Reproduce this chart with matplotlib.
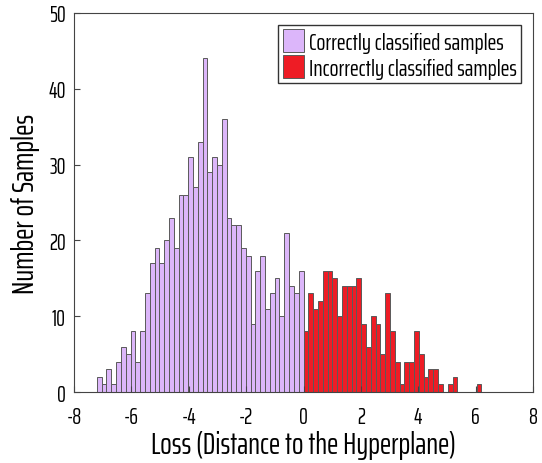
import numpy as np
import matplotlib
matplotlib.use('Agg')
import matplotlib.pyplot as plt

# counts, bin width ~0.1675
bin_w = 0.1675
correct_counts = [2, 1, 3, 1, 4, 6, 5, 8, 4, 8, 13, 17, 19, 17, 20, 23, 19, 26, 26, 31,
                  27, 33, 44, 29, 31, 30, 36, 23, 22, 22, 19, 18, 9, 16, 18, 11, 13, 15, 10, 21,
                  14, 13, 16]
wrong_counts = [8, 13, 11, 12, 16, 16, 15, 10, 14, 14, 14, 15, 9, 6, 10, 9, 5, 13, 8, 4,
                1, 4, 4, 8, 5, 2, 3, 3, 1, 0, 1, 2, 0, 0, 0, 0, 1]

plt.rcParams['font.family'] = ['Saira ExtraCondensed', 'DejaVu Sans']
plt.rcParams['axes.unicode_minus'] = False

fig = plt.figure(figsize=(5.42, 4.64), dpi=100)
ax = fig.add_axes([0.1365, 0.153, 0.847, 0.817])

left_c = (np.arange(len(correct_counts)) - len(correct_counts)) * bin_w
left_w = np.arange(len(wrong_counts)) * bin_w
ax.bar(left_c, correct_counts, width=bin_w, align='edge', color='#dcb6fa',
       edgecolor='#5a5a5a', linewidth=0.7, label='Correctly classified samples')
ax.bar(left_w, wrong_counts, width=bin_w, align='edge', color='#ee1c25',
       edgecolor='#5a5a5a', linewidth=0.7, label='Incorrectly classified samples')

ax.set_xlim(-8, 8)
ax.set_ylim(0, 50)
ax.set_xticks(range(-8, 9, 2))
ax.set_yticks(range(0, 51, 10))
ax.tick_params(direction='in', length=4, labelsize=16, color='#444444')
ax.tick_params(axis='x', pad=10)
ax.tick_params(axis='y', pad=6)
for s in ax.spines.values():
    s.set_color('#444444')
ax.set_xlabel('Loss (Distance to the Hyperplane)', fontsize=22, labelpad=2)
ax.set_ylabel('Number of Samples', fontsize=22, labelpad=6)
leg = ax.legend(loc='upper right', fontsize=17, frameon=True, fancybox=False,
                handlelength=0.9, handleheight=1.1, handletextpad=0.2,
                borderaxespad=0.5, borderpad=0.2, labelspacing=0.1)
leg.get_frame().set_edgecolor('black')
leg.get_frame().set_linewidth(1.0)

fig.savefig('out.png', dpi=100)
